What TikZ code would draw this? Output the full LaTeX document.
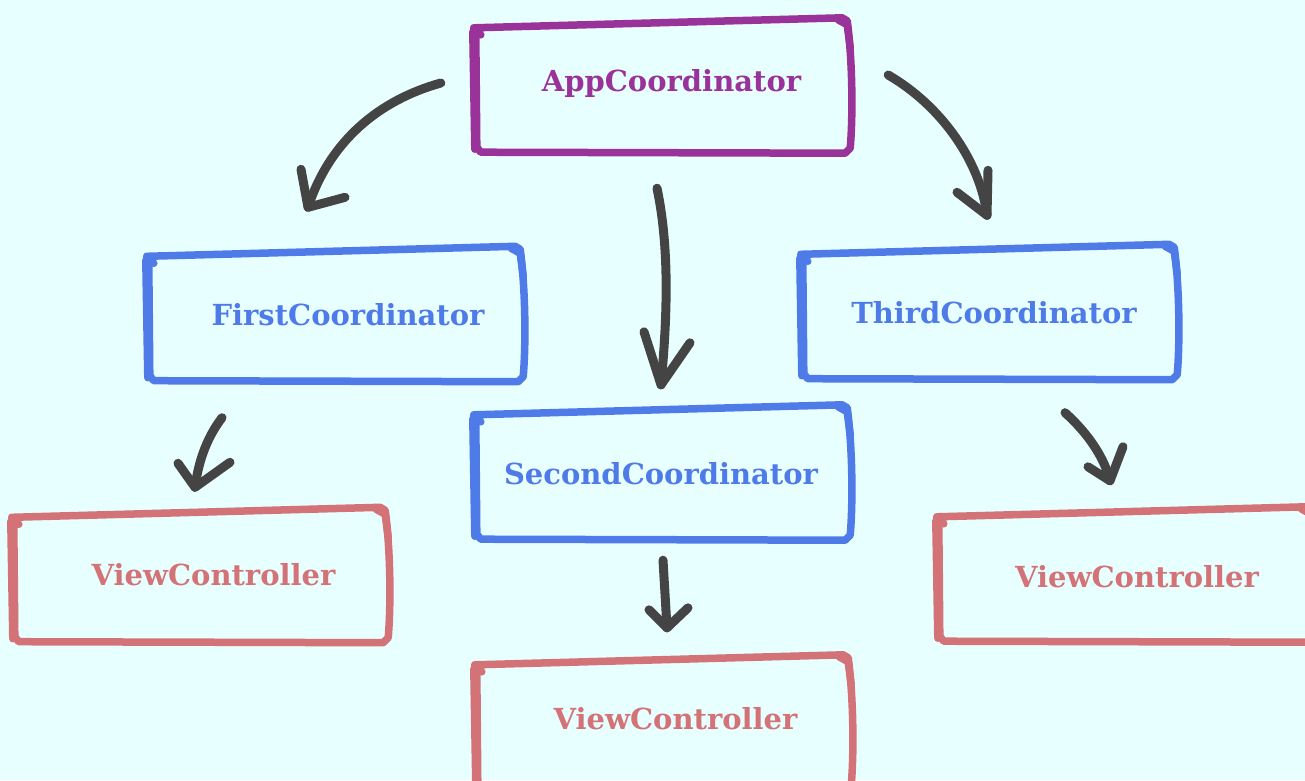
\documentclass[tikz,border=0pt]{standalone}
\usepackage{fontspec}
\newfontfamily\lab{DejaVu Serif}
\definecolor{bgc}{HTML}{E8FFFF}
\definecolor{purp}{HTML}{993399}
\definecolor{bluc}{HTML}{4F7BE8}
\definecolor{redc}{HTML}{D37377}
\definecolor{arrc}{HTML}{444444}
\tikzset{
  x=1pt, y=-1pt,
  boxnode/.style={minimum width=378pt, minimum height=135pt, inner sep=0pt, draw=none, text height=21pt, text depth=6pt, font=\lab\bfseries\fontsize{29}{31}\selectfont},
  sk/.style={draw=#1, line width=7.5pt, line cap=round, line join=round},
  arr/.style={draw=arrc, line width=9pt, line cap=round, line join=round},
}
\newcommand\skbox[2]{%
  \draw[sk=#2] ([shift={(9,17)}]#1.north west) -- ([shift={(2,10)}]#1.north west)
    -- ([shift={(-8,0)}]#1.north east) -- ([shift={(-3,3)}]#1.north east)
    .. controls ([shift={(2,40)}]#1.north east) and ([shift={(3,-40)}]#1.south east) .. ([shift={(0,-5)}]#1.south east)
    -- ([shift={(-5,0)}]#1.south east) -- ([shift={(9,-1)}]#1.south west)
    -- ([shift={(5,-6)}]#1.south west) -- ([shift={(4,18)}]#1.north west);
  \draw[sk=#2] ([shift={(-12,2)}]#1.north east) -- ([shift={(-3,7)}]#1.north east) -- ([shift={(0,30)}]#1.north east);
  \draw[sk=#2] ([shift={(1,14)}]#1.north west) -- ([shift={(3,-4)}]#1.south west);
}
\begin{document}
\begin{tikzpicture}
\fill[bgc] (0,0) rectangle (1305,780);
\useasboundingbox (0,0) rectangle (1305,780);

\node[boxnode, text=purp] (app) at (661,85.5) {\hspace*{21pt}\raisebox{2pt}{AppCoordinator}};
\node[boxnode, text=bluc] (first) at (334,314) {\hspace*{28pt}\raisebox{-4pt}{FirstCoordinator}};
\node[boxnode, text=bluc] (third) at (988,312) {\hspace*{12pt}\raisebox{-4pt}{ThirdCoordinator}};
\node[boxnode, text=bluc] (second) at (661,472.5) {\raisebox{-4pt}{SecondCoordinator}};
\node[boxnode, text=redc] (vcl) at (199,575) {\hspace*{29pt}\raisebox{-3pt}{ViewController}};
\node[boxnode, text=redc] (vcr) at (1124,574.5) {\hspace*{26pt}\raisebox{-5pt}{ViewController}};
\node[boxnode, text=redc] (vcb) at (662,722.5) {\hspace*{27pt}\raisebox{1pt}{ViewController}};

\skbox{app}{purp}
\skbox{first}{bluc}
\skbox{third}{bluc}
\skbox{second}{bluc}
\skbox{vcl}{redc}
\skbox{vcr}{redc}
\skbox{vcb}{redc}

% connector end points
\path (app.west) ++(-31,-2.5) coordinate (a1s);
\path (first.north) ++(-26,-39) coordinate (a1t);
\path (app.south) ++(-4,35) coordinate (a2s);
\path (second.north) ++(0,-20) coordinate (a2t);
\path (app.east) ++(38,-10.5) coordinate (a3s);
\path (third.north) ++(-1,-29) coordinate (a3t);
\path (first.south) ++(-112,36) coordinate (a4s);
\path (vcl.north) ++(-4,-20) coordinate (a4t);
\path (second.south) ++(2,20) coordinate (a5s);
\path (vcb.north) ++(5,-27) coordinate (a5t);
\path (third.south) ++(77,33) coordinate (a6s);
\path (vcr.north) ++(-14,-26) coordinate (a6t);

% app -> first
\draw[arr] (a1s) .. controls (380,100) and (330,140) .. (a1t);
\draw[arr] (a1t) ++(-7,-38) -- (a1t) -- ++(37,-10);
% app -> second
\draw[arr] (a2s) .. controls (670,250) and (667,320) .. (a2t);
\draw[arr] (a2t) ++(-17,-53) -- (a2t) -- ++(29,-42);
% app -> third
\draw[arr] (a3s) .. controls (940,105) and (980,160) .. (a3t);
\draw[arr] (a3t) ++(-30,-23) -- (a3t) -- ++(1,-45);
% first -> vc
\draw[arr] (a4s) .. controls (205,440) and (198,465) .. (a4t);
\draw[arr] (a4t) ++(-17,-24) -- (a4t) -- ++(35,-25);
% second -> vc
\draw[arr] (a5s) -- (a5t);
\draw[arr] (a5t) ++(-18,-18) -- (a5t) -- ++(21,-20);
% third -> vc
\draw[arr] (a6s) .. controls (1090,435) and (1105,460) .. (a6t);
\draw[arr] (a6t) ++(-22,-14) -- (a6t) -- ++(13,-34);
\end{tikzpicture}
\end{document}
